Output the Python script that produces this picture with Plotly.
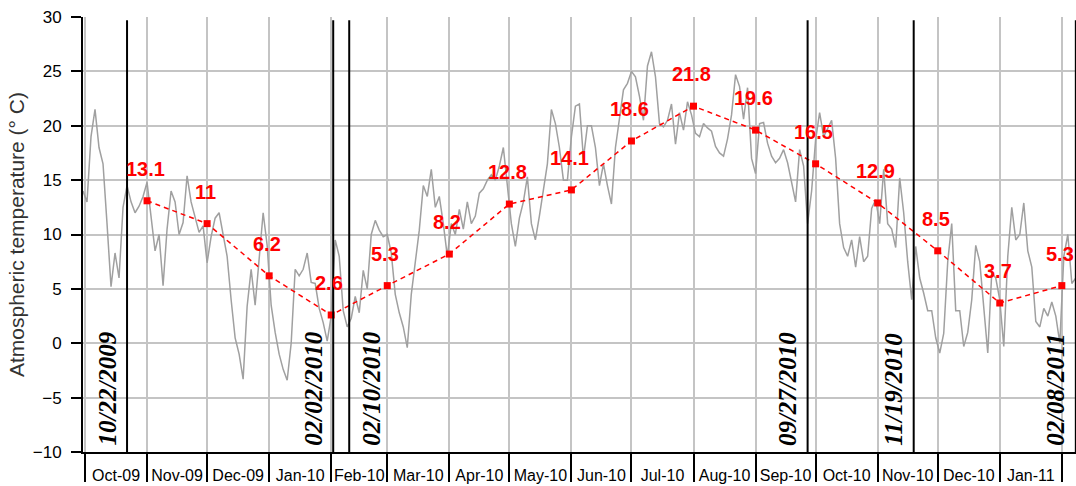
import plotly.graph_objects as go
import pandas as pd

# ---------------- data ----------------
# Daily atmospheric temperature, sampled every 2 days starting 2009-09-30
DAILY_START = "2009-09-30"
DAILY_TEMP = [
    14, 13, 19, 21.5, 18, 16.5, 11, 5.2, 8.3, 6,
    12.5, 14.5, 13, 12, 12.6, 13.5, 14.8, 11.5, 8.5, 10,
    5.3, 10.5, 14, 13, 10, 11.1, 15.4, 13, 11.5, 10.2,
    10.8, 7.4, 9.8, 11.5, 12, 9.9, 8, 4, 0.5, -1,
    -3.3, 3.4, 6.8, 3.5, 7.5, 12, 9, 3.5, 1, -1,
    -2.4, -3.4, 0, 6.8, 6.2, 6.8, 8.3, 5.6, 5.5, 3.2,
    1.9, 0.2, 2.5,
    9.5, 8, 3, 1.5, 2.3, 4.3, 2.8, 6.7, 5, 10,
    11.3, 10.4, 9.8, 10, 8.3, 4.5, 2.8, 1.5, -0.4, 4.5,
    7.2, 10.4, 14.5, 13.5, 16, 12.5, 13.5, 11, 8, 11,
    10, 12.3, 10.5, 13, 11, 11.7, 13.8, 14.2, 15, 15.5,
    15, 16.3, 18, 14.7, 11, 8.9, 11.5, 13, 15.3, 11,
    9.5, 11.7, 14.1, 16.5, 21.5, 20.2, 18, 15, 15, 19,
    21.8, 22,
    17, 20, 20, 18, 14.5, 16.5, 14.5, 12.8, 18, 20.9,
    23.3, 23.9, 25, 24.5, 22.7, 20.5, 25.5, 26.8, 24.5, 20.2,
    19.9, 20.5, 22, 18.3, 21.2, 19.6, 22.2, 21, 19.3, 19,
    20.2, 19.8, 19.5, 18.1, 17.5, 17.2, 18.8, 21, 24.7, 23.6,
    20.6, 23.5, 17, 15.6, 20.2, 20.3, 18.4, 17.2, 16.6, 17,
    17.8, 16.6, 14.7, 13, 17.8, 16.3, 11, 14, 18.7, 21.2,
    19, 19.7,
    20.5, 17, 11, 8.8, 8, 9.5, 7, 9.8, 7.5, 8,
    12.4, 13.2, 11, 16, 11, 10.5, 8.8, 15.2, 12, 7.5,
    4, 8.9, 6, 4.6, 3, 3, 0.5, -0.9, 0.9, 7.5,
    11, 3, 3, -0.3, 1, 4, 9, 7.5, 3, -0.9,
    6.5, 6, 4, -0.3, 8, 12.5, 9.5, 10, 12.9, 8.5,
    7, 2, 1.5, 3.2, 2.5, 3.8, 2.5, 0, 8, 10,
    5.5, 6,
]

# Monthly mean temperatures
MONTH_DATES = ["2009-11-01", "2009-12-01", "2010-01-01", "2010-02-01",
               "2010-03-01", "2010-04-01", "2010-05-01", "2010-06-01",
               "2010-07-01", "2010-08-01", "2010-09-01", "2010-10-01",
               "2010-11-01", "2010-12-01", "2011-01-01", "2011-02-01"]
MONTH_MEANS = [13.1, 11, 6.2, 2.6, 5.3, 8.2, 12.8, 14.1,
               18.6, 21.8, 19.6, 16.5, 12.9, 8.5, 3.7, 5.3]

# Sampling events
EVENT_DATES = ["2009-10-22", "2010-02-02", "2010-02-10",
               "2010-09-27", "2010-11-19", "2011-02-08"]
EVENT_LABELS = ["10/22/2009", "02/02/2010", "02/10/2010",
                "09/27/2010", "11/19/2010", "02/08/2011"]
EVENT_SIDE = ["left", "left", "right", "left", "left", "left"]

Y_TICKS = [-10, -5, 0, 5, 10, 15, 20, 25, 30]
X_RANGE = ["2009-09-30", "2011-02-08 02:00"]

# ---------------- figure ----------------
daily_dates = pd.date_range(DAILY_START, periods=len(DAILY_TEMP), freq="2D")

fig = go.Figure()
fig.add_trace(go.Scatter(
    x=daily_dates, y=DAILY_TEMP, mode="lines",
    line=dict(color="#a0a0a0", width=1.5), hoverinfo="skip", showlegend=False))
fig.add_trace(go.Scatter(
    x=MONTH_DATES, y=MONTH_MEANS, mode="lines+markers",
    line=dict(color="#ff0000", width=1.5, dash="5px,4px"),
    marker=dict(symbol="square", size=7, color="#ff0000"),
    showlegend=False))

for d, v in zip(MONTH_DATES, MONTH_MEANS):
    fig.add_annotation(x=d, y=v, text=f"<b>{v:g}</b>", showarrow=False,
                       yshift=32, xshift=-2,
                       font=dict(family="Liberation Sans, Arial", size=20, color="#ff0000"))

for d, lab, side in zip(EVENT_DATES, EVENT_LABELS, EVENT_SIDE):
    fig.add_shape(type="line", xref="x", yref="y", x0=d, x1=d, y0=-10, y1=29.7,
                  line=dict(color="black", width=2), layer="above")
    fig.add_annotation(x=d, y=-10, yanchor="bottom", yshift=4,
                       xanchor="right" if side == "left" else "left",
                       xshift=-5 if side == "left" else 6,
                       textangle=-90, showarrow=False,
                       text=f"<b><i>{lab}</i></b>",
                       font=dict(family="Liberation Serif, Times New Roman", size=25, color="black"))

fig.update_layout(
    width=1076, height=486,
    margin=dict(l=83, r=0, t=17, b=34),
    paper_bgcolor="white", plot_bgcolor="white",
    font=dict(family="Liberation Sans, Arial", color="black"),
)
fig.update_xaxes(
    type="date", range=X_RANGE, tick0="2009-10-01", dtick="M1",
    tickformat="%b-%y", ticklabelmode="period",
    ticks="outside", ticklen=28, tickwidth=1.5, tickcolor="black",
    ticklabelstandoff=-20,
    showgrid=True, gridcolor="#c4c4c4", gridwidth=2,
    showline=True, linecolor="black", linewidth=1.5, zeroline=False,
    tickfont=dict(size=16, color="black"), automargin=False,
)
fig.update_yaxes(
    range=[-10, 30], tickvals=Y_TICKS,
    ticks="outside", ticklen=10, tickwidth=1.5, tickcolor="black",
    ticklabelstandoff=6,
    showgrid=True, gridcolor="#c4c4c4", gridwidth=2,
    showline=True, linecolor="black", linewidth=2, zeroline=False,
    tickfont=dict(size=17, color="black"),
    title=dict(text="Atmospheric temperature (° C)", standoff=2,
               font=dict(size=21, color="#333333")),
    automargin=False,
)

fig.write_html("out.html",
               config={"displayModeBar": False},
               post_script="document.body.style.margin='0';document.body.style.overflow='hidden';")
